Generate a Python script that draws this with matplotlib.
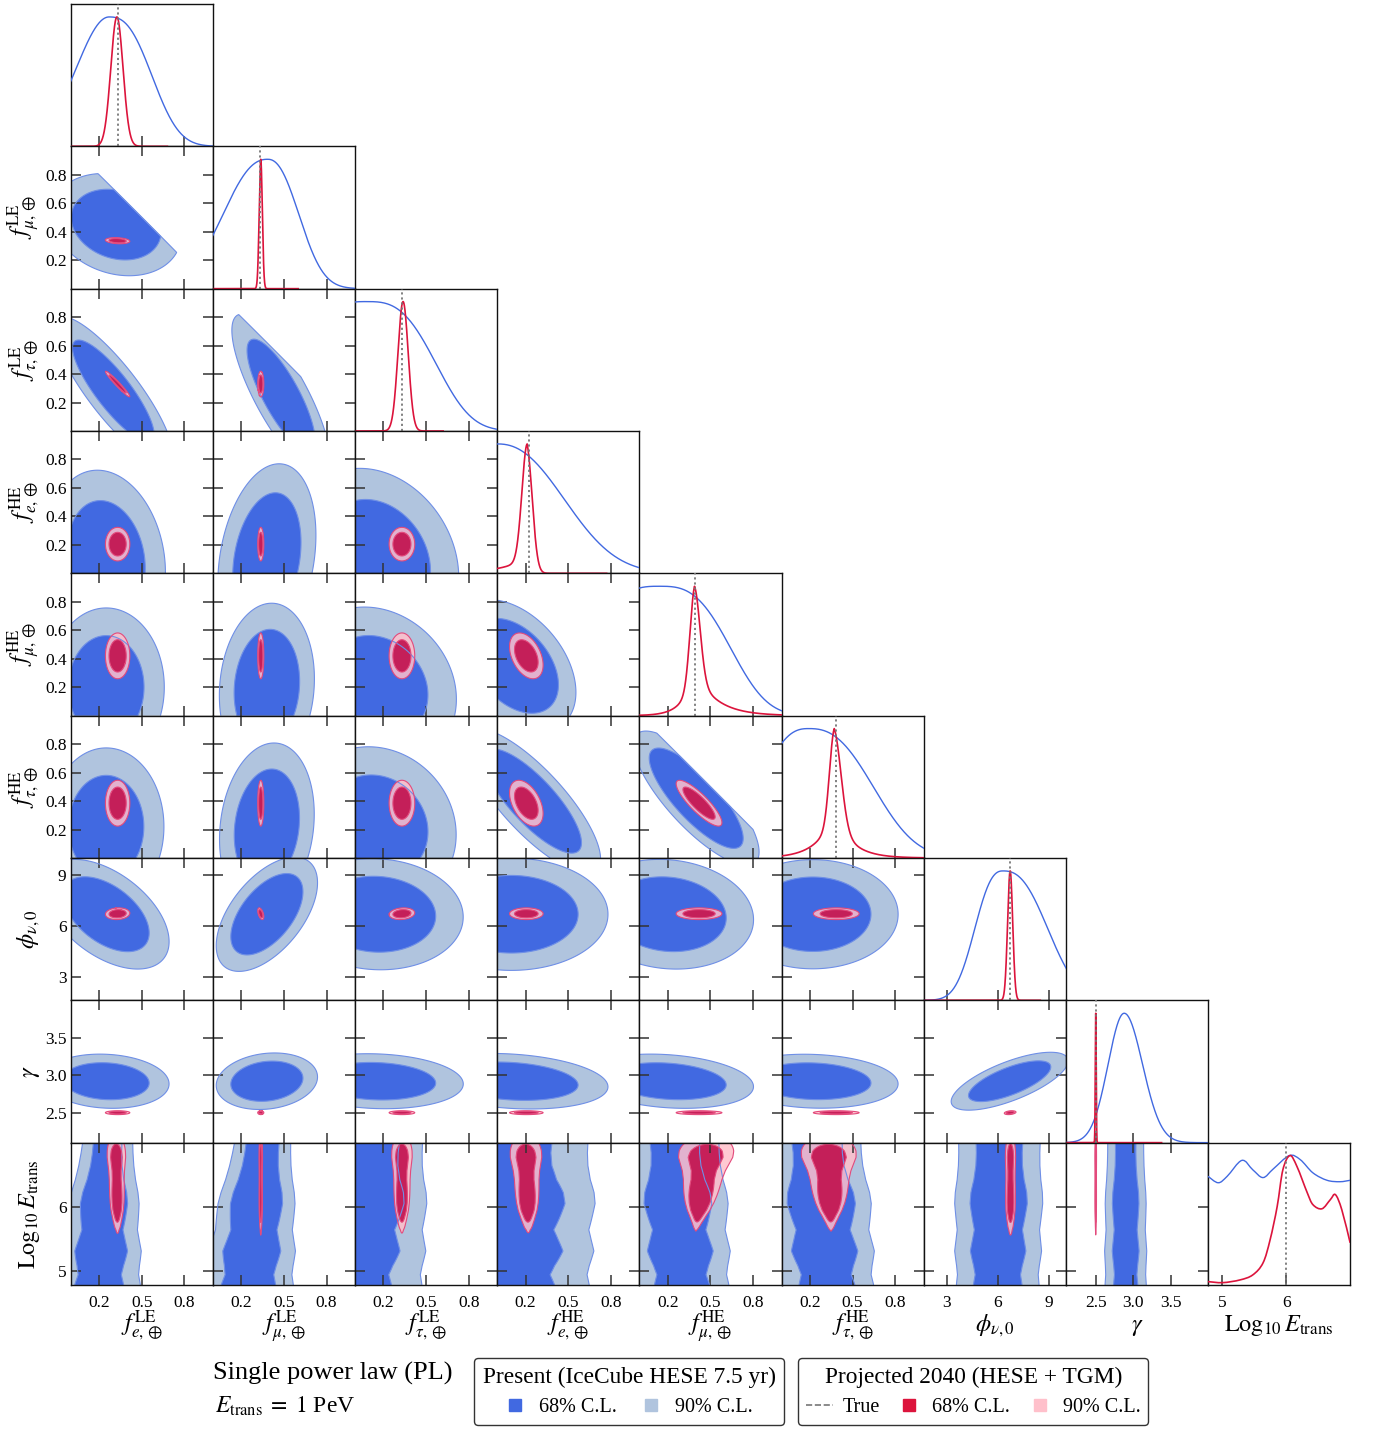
import numpy as np
import matplotlib
matplotlib.use('Agg')
import matplotlib.pyplot as plt
from matplotlib.lines import Line2D
from matplotlib.path import Path
from matplotlib.patches import PathPatch

plt.rcParams['font.family'] = ['Liberation Serif', 'DejaVu Serif']
plt.rcParams['mathtext.fontset'] = 'stix'

# ---------------- parameters / axes ----------------
LABELS = [r'$f^{\rm LE}_{e,\oplus}$', r'$f^{\rm LE}_{\mu,\oplus}$', r'$f^{\rm LE}_{\tau,\oplus}$',
          r'$f^{\rm HE}_{e,\oplus}$', r'$f^{\rm HE}_{\mu,\oplus}$', r'$f^{\rm HE}_{\tau,\oplus}$',
          r'$\phi_{\nu,0}$', r'$\gamma$', r'${\rm Log}_{10}\,E_{\rm trans}$']
LIMITS = [(0, 1)] * 6 + [(1.65, 10.0), (2.1, 4.0), (4.78, 7.0)]
PHYS = [(0, 1)] * 6 + [(0.0, 14.0), (1.5, 4.5), (4.78, 7.0)]
XTICKS = [[0.2, 0.5, 0.8]] * 6 + [[3, 6, 9], [2.5, 3.0, 3.5], [5, 6]]
XTICKLABELS = [['0.2', '0.5', '0.8']] * 6 + [['3', '6', '9'], ['2.5', '3.0', '3.5'], ['5', '6']]
YTICKS = [[0.2, 0.4, 0.6, 0.8]] * 6 + [[3, 6, 9], [2.5, 3.0, 3.5], [5, 6]]
YTICKLABELS = [['0.2', '0.4', '0.6', '0.8']] * 6 + [['3', '6', '9'], ['2.5', '3.0', '3.5'], ['5', '6']]
TRUE_VALUES = [1/3, 1/3, 1/3, 0.225, 0.39, 0.385, 6.75, 2.5, 6.0]
GROUP = [0, 0, 0, 1, 1, 1, 2, 3, 4]

# ---------------- 1D marginals ----------------
PRES1D_MEAN = [0.27, 0.385, 0.08, 0.0, 0.14, 0.19, 6.31, 2.88]
PRES1D_SL = [0.23, 0.30, 0.448, 0.45, 0.46, 0.33, 1.55, 0.215]
PRES1D_SR = [0.28, 0.21, 0.448, 0.45, 0.46, 0.425, 2.46, 0.245]
PRES1D_PL = [2.0, 2.3, 3.0, 2.3, 3.0, 2.54, 2.5, 2.0]
PRES1D_PR = [2.6, 2.3, 3.0, 2.3, 3.0, 2.54, 2.5, 2.0]

PROJ1D_MEAN = [0.325, 0.337, 0.338, 0.211, 0.388, 0.371, 6.73, 2.5]
PROJ1D_SL = [0.043, 0.011, 0.036, 0.037, 0.033, 0.034, 0.15, 0.006]
PROJ1D_SR = [0.043, 0.011, 0.036, 0.037, 0.040, 0.050, 0.15, 0.006]
PROJ1D_TAIL_A = [0.0, 0.0, 0.0, 0.12, 0.35, 0.35, 0.0, 0.0]
PROJ1D_TAIL_LL = [1.0, 1.0, 1.0, 0.18, 0.08, 0.12, 1.0, 1.0]
PROJ1D_TAIL_LR = [1.0, 1.0, 1.0, 0.02, 0.15, 0.12, 1.0, 1.0]
PROJ1D_XMAX = [0.68, 0.6, 0.62, 0.77, 1.0, 1.0, 8.5, 3.38]

LOGE_PRES_X = [4.78, 4.94, 5.08, 5.31, 5.48, 5.64, 5.80, 6.05, 6.22, 6.42, 6.64, 6.84, 7.0]
LOGE_PRES_Y = [0.84, 0.79, 0.84, 0.963, 0.89, 0.83, 0.897, 1.0, 0.969, 0.866, 0.809, 0.798, 0.809]
LOGE_PROJ_X = [4.78, 5.01, 5.28, 5.48, 5.64, 5.75, 5.86, 5.95, 6.06, 6.17, 6.33, 6.42, 6.56, 6.69, 6.77, 6.87, 7.0]
LOGE_PROJ_Y = [0.026, 0.018, 0.039, 0.078, 0.171, 0.349, 0.605, 0.891, 1.0, 0.915, 0.713, 0.62, 0.589, 0.659, 0.698, 0.581, 0.326]

# ---------------- 2D posteriors ----------------
PRES2D_MEAN = [0.25, 0.38, 0.15, 0.10, 0.20, 0.22, 6.7, 2.92]
PRES2D_SIGMA = [0.22, 0.17, 0.30, 0.33, 0.30, 0.30, 1.6, 0.18]
PRES_RHO = [
    [],
    [-0.35],
    [-0.85, -0.8],
    [-0.15, 0.25, -0.2],
    [0.0, 0.1, -0.15, -0.4],
    [0.0, 0.15, -0.1, -0.6, -0.9],
    [-0.5, 0.55, -0.05, 0.0, -0.1, 0.0],
    [-0.1, 0.15, -0.1, -0.2, -0.2, -0.1, 0.7],
]
SIMPLEX_PAIRS = [(1, 0), (2, 0), (2, 1), (4, 3), (5, 3), (5, 4)]
SIMPLEX_MX = [0.32, 0.30, 0.48, 0.12, 0.25, 0.40]
SIMPLEX_MY = [0.45, 0.28, 0.25, 0.35, 0.40, 0.42]
SIMPLEX_SX = [0.28, 0.24, 0.20, 0.28, 0.30, 0.30]
SIMPLEX_SY = [0.22, 0.30, 0.33, 0.30, 0.32, 0.32]
SIMPLEX_RHO = [-0.2, -0.85, -0.8, -0.4, -0.8, -0.8]

# Log10 E_trans row (present): x centre / width at logE = 4.78 and 7.0
LOGE_PRES_MX_LO = [0.20, 0.25, 0.02, 0.15, 0.30, 0.32, 6.0, 2.9]
LOGE_PRES_MX_HI = [0.26, 0.35, 0.15, 0.15, 0.25, 0.25, 6.1, 2.9]
LOGE_PRES_SX_LO = [0.21, 0.22, 0.30, 0.35, 0.25, 0.25, 1.5, 0.17]
LOGE_PRES_SX_HI = [0.13, 0.14, 0.22, 0.35, 0.24, 0.24, 1.5, 0.15]

PROJ2D_MEAN = [0.33, 0.337, 0.33, 0.205, 0.42, 0.385, 6.73, 2.5]
PROJ2D_SIGMA = [0.04, 0.01, 0.042, 0.055, 0.075, 0.075, 0.16, 0.012]
PROJ_RHO = [
    [],
    [-0.2],
    [-0.97, 0.0],
    [0.0, 0.0, 0.0],
    [0.0, 0.0, 0.0, -0.4],
    [0.0, 0.0, 0.0, -0.45, -0.85],
    [0.1, -0.5, 0.15, 0.0, 0.0, 0.0],
    [0.0, 0.0, 0.0, 0.0, 0.0, 0.0, 0.3],
]
# Log10 E_trans row (projected): x centre / width at logE = 5.5 and 7.0
LOGE_PROJ_MX_LO = [0.33, 0.337, 0.33, 0.22, 0.39, 0.35, 6.75, 2.5]
LOGE_PROJ_MX_HI = [0.32, 0.337, 0.33, 0.20, 0.48, 0.33, 6.75, 2.5]
LOGE_PROJ_SX_LO = [0.015, 0.005, 0.015, 0.02, 0.006, 0.008, 0.12, 0.004]
LOGE_PROJ_SX_HI = [0.04, 0.007, 0.045, 0.07, 0.13, 0.13, 0.17, 0.006]

# ---------------- colours ----------------
C_BLUE68 = '#4169E1'
C_BLUE90 = '#B0C4DE'
C_BLUE_EDGE = '#6F8FE6'
C_RED68 = '#C2124F'
C_PINK90 = '#FFC0CB'
C_RED_EDGE = '#E34A7C'
C_RED_LINE = '#DC143C'


def split_gen(x, m, sl, sr, pl, pr):
    d = x - m
    s = np.where(d < 0, sl, sr)
    p = np.where(d < 0, pl, pr)
    return np.exp(-0.5 * np.abs(d / s) ** p)


def split_laplace(x, m, ll, lr):
    d = x - m
    lam = np.where(d < 0, ll, lr)
    return np.exp(-np.abs(d) / lam)


def hpd_levels(Z):
    z = np.sort(Z.ravel())[::-1]
    c = np.cumsum(z)
    c /= c[-1]
    l68 = z[np.searchsorted(c, 0.68)]
    l90 = z[np.searchsorted(c, 0.90)]
    return l90, l68


def gauss2d(X, Y, mx, my, sx, sy, rho):
    u = (X - mx) / sx
    v = (Y - my) / sy
    return np.exp(-0.5 * (u * u - 2 * rho * u * v + v * v) / (1 - rho * rho))


def present_density(r, c):
    xlo, xhi = PHYS[c]
    if r == 8:
        x = np.linspace(xlo, xhi, 320)
        y = np.linspace(4.78, 7.0, 320)
        X, Y = np.meshgrid(x, y)
        t = (Y - 4.78) / (7.0 - 4.78)
        mx = LOGE_PRES_MX_LO[c] + t * (LOGE_PRES_MX_HI[c] - LOGE_PRES_MX_LO[c])
        sx = LOGE_PRES_SX_LO[c] + t * (LOGE_PRES_SX_HI[c] - LOGE_PRES_SX_LO[c])
        g = np.interp(Y, LOGE_PRES_X, LOGE_PRES_Y)
        Z = g * np.exp(-0.5 * ((X - mx) / sx) ** 2)
        return X, Y, Z
    ylo, yhi = PHYS[r]
    x = np.linspace(xlo, xhi, 320)
    y = np.linspace(ylo, yhi, 320)
    X, Y = np.meshgrid(x, y)
    if (r, c) in SIMPLEX_PAIRS:
        k = SIMPLEX_PAIRS.index((r, c))
        Z = gauss2d(X, Y, SIMPLEX_MX[k], SIMPLEX_MY[k], SIMPLEX_SX[k], SIMPLEX_SY[k], SIMPLEX_RHO[k])
        Z[X + Y > 1] = 0.0
    else:
        Z = gauss2d(X, Y, PRES2D_MEAN[c], PRES2D_MEAN[r], PRES2D_SIGMA[c], PRES2D_SIGMA[r], PRES_RHO[r][c])
    return X, Y, Z


def projected_density(r, c):
    xlo, xhi = PHYS[c]
    if r == 8:
        y = np.linspace(4.78, 7.0, 400)
        smax = max(LOGE_PROJ_SX_LO[c], LOGE_PROJ_SX_HI[c])
        mlo = min(LOGE_PROJ_MX_LO[c], LOGE_PROJ_MX_HI[c])
        mhi = max(LOGE_PROJ_MX_LO[c], LOGE_PROJ_MX_HI[c])
        x = np.linspace(max(xlo, mlo - 6 * smax), min(xhi, mhi + 6 * smax), 500)
        X, Y = np.meshgrid(x, y)
        t = (Y - 5.5) / 1.5
        mx = LOGE_PROJ_MX_LO[c] + t * (LOGE_PROJ_MX_HI[c] - LOGE_PROJ_MX_LO[c])
        sx = LOGE_PROJ_SX_LO[c] + t * (LOGE_PROJ_SX_HI[c] - LOGE_PROJ_SX_LO[c])
        sx = np.maximum(sx, 0.6 * LOGE_PROJ_SX_LO[c])
        g = np.interp(Y, LOGE_PROJ_X, LOGE_PROJ_Y)
        Z = g * np.exp(-0.5 * ((X - mx) / sx) ** 2)
        return X, Y, Z
    ylo, yhi = PHYS[r]
    mx, sx = PROJ2D_MEAN[c], PROJ2D_SIGMA[c]
    my, sy = PROJ2D_MEAN[r], PROJ2D_SIGMA[r]
    x = np.linspace(max(xlo, mx - 7 * sx), min(xhi, mx + 7 * sx), 300)
    y = np.linspace(max(ylo, my - 7 * sy), min(yhi, my + 7 * sy), 300)
    X, Y = np.meshgrid(x, y)
    Z = gauss2d(X, Y, mx, my, sx, sy, PROJ_RHO[r][c])
    if GROUP[r] == GROUP[c] and GROUP[r] < 2:
        Z[X + Y > 1] = 0.0
    return X, Y, Z


def draw_filled(ax, X, Y, Z, c90, c68, edge, alpha90=1.0, alpha68=1.0):
    l90, l68 = hpd_levels(Z)
    zmax = Z.max() * 1.001 + 1e-12
    ax.contourf(X, Y, Z, levels=[l90, zmax], colors=[c90], alpha=alpha90, antialiased=True)
    ax.contourf(X, Y, Z, levels=[l68, zmax], colors=[c68], alpha=alpha68, antialiased=True)
    ax.contour(X, Y, Z, levels=[l90, l68], colors=[edge], linewidths=0.8)


def catmull_path(xs, ys):
    P = np.column_stack([xs, ys])
    n = len(P)
    verts = [P[0]]
    codes = [Path.MOVETO]
    for i in range(n - 1):
        p0 = P[i - 1] if i > 0 else P[i]
        p1, p2 = P[i], P[i + 1]
        p3 = P[i + 2] if i + 2 < n else P[i + 1]
        verts += [p1 + (p2 - p0) / 6.0, p2 - (p3 - p1) / 6.0, p2]
        codes += [Path.CURVE4] * 3
    return Path(verts, codes)


# ---------------- figure ----------------
fig = plt.figure(figsize=(13.8, 14.29), dpi=100)
N = 9
X0, W = 70.7, 142.16
Y0, H = 4.0, 142.33
TICKLEN = 7.2

for r in range(N):
    for c in range(r + 1):
        left = (X0 + c * W) / 1380.0
        bottom = 1.0 - (Y0 + (r + 1) * H) / 1429.0
        ax = fig.add_axes([left, bottom, W / 1380.0, H / 1429.0])
        for s in ax.spines.values():
            s.set_linewidth(1.0)
            s.set_color('#111111')
        ax.set_xlim(*LIMITS[c])
        ax.set_xticks(XTICKS[c])
        if r == c:
            ax.set_ylim(0, 1.1)
            ax.set_yticks([])
            if c < 8:
                lo, hi = PHYS[c]
                xs = np.linspace(lo, hi, 800)
                yb = split_gen(xs, PRES1D_MEAN[c], PRES1D_SL[c], PRES1D_SR[c], PRES1D_PL[c], PRES1D_PR[c])
                ax.plot(xs, yb, color=C_BLUE68, lw=1.0, zorder=3)
                xr = np.linspace(lo if c < 6 else LIMITS[c][0], PROJ1D_XMAX[c], 3000)
                core = split_gen(xr, PROJ1D_MEAN[c], PROJ1D_SL[c], PROJ1D_SR[c], 2.0, 2.0)
                tail = split_laplace(xr, PROJ1D_MEAN[c], PROJ1D_TAIL_LL[c], PROJ1D_TAIL_LR[c])
                a = PROJ1D_TAIL_A[c]
                yr = (1 - a) * core + a * tail
                ax.plot(xr, yr, color=C_RED_LINE, lw=1.2, zorder=4)
            else:
                ax.add_patch(PathPatch(catmull_path(LOGE_PRES_X, LOGE_PRES_Y), fill=False,
                                       edgecolor=C_BLUE68, lw=1.0, zorder=3))
                ax.add_patch(PathPatch(catmull_path(LOGE_PROJ_X, LOGE_PROJ_Y), fill=False,
                                       edgecolor=C_RED_LINE, lw=1.2, zorder=4))
            ax.axvline(TRUE_VALUES[c], color='#777777', ls=(0, (1.2, 1.6)), lw=1.3, zorder=5)
            ax.tick_params(axis='x', direction='in', length=TICKLEN, width=1.1, color='#333333',
                           top=False, bottom=True, labelsize=12.5, pad=7)
            ax.tick_params(axis='y', left=False, right=False, labelleft=False)
        else:
            ax.set_ylim(*LIMITS[r])
            ax.set_yticks(YTICKS[r])
            Xp, Yp, Zp = present_density(r, c)
            draw_filled(ax, Xp, Yp, Zp, C_BLUE90, C_BLUE68, C_BLUE_EDGE)
            Xr, Yr, Zr = projected_density(r, c)
            draw_filled(ax, Xr, Yr, Zr, C_PINK90, C_RED68, C_RED_EDGE, alpha90=0.85, alpha68=0.92)
            ax.tick_params(axis='both', direction='in', length=TICKLEN, width=1.1, color='#333333',
                           top=True, right=True, labelsize=12.5)
            ax.tick_params(axis='x', pad=7)
            ax.tick_params(axis='y', pad=3)
        if r == N - 1:
            ax.set_xticklabels(XTICKLABELS[c])
            ax.set_xlabel(LABELS[c], fontsize=17.5, va='baseline')
            ax.xaxis.set_label_coords(0.5, -0.325)
        else:
            ax.set_xticklabels([])
        if c == 0 and r > 0:
            ax.set_yticklabels(YTICKLABELS[r])
            ax.set_ylabel(LABELS[r], fontsize=17.5)
            ax.yaxis.set_label_coords(-0.2, 0.5)
        elif r != c:
            ax.set_yticklabels([])

# ---------------- annotations / legends ----------------
fig.text(213 / 1380, 1 - 1373 / 1429, 'Single power law (PL)', fontsize=19, ha='left', va='center')
fig.text(215 / 1380, 1 - 1406 / 1429, r'$E_{\rm trans}\;=\;1$ PeV', fontsize=17, ha='left', va='center')

h1 = [Line2D([], [], marker='s', ls='none', color=C_BLUE68, markersize=9),
      Line2D([], [], marker='s', ls='none', color=C_BLUE90, markersize=9)]
leg1 = fig.legend(h1, ['68% C.L.', '90% C.L.'], title='Present (IceCube HESE 7.5 yr)', ncol=2,
                  loc='center', bbox_to_anchor=(0.4558, 0.0262), fontsize=14.5, title_fontsize=16.8,
                  frameon=True, fancybox=True, edgecolor='#333333', framealpha=1.0,
                  handlelength=1.0, handletextpad=0.7, columnspacing=1.2, borderpad=0.4)
leg1.get_frame().set_linewidth(1.0)

h2 = [Line2D([], [], color='#777777', ls='--', lw=1.2),
      Line2D([], [], marker='s', ls='none', color=C_RED_LINE, markersize=9),
      Line2D([], [], marker='s', ls='none', color=C_PINK90, markersize=9)]
leg2 = fig.legend(h2, ['True', '68% C.L.', '90% C.L.'], title='Projected 2040 (HESE + TGM)', ncol=3,
                  loc='center', bbox_to_anchor=(0.7054, 0.0262), fontsize=14.5, title_fontsize=16.8,
                  frameon=True, fancybox=True, edgecolor='#333333', framealpha=1.0,
                  handlelength=1.3, handletextpad=0.5, columnspacing=0.8, borderpad=0.4)
leg2.get_frame().set_linewidth(1.0)

fig.savefig('out.png', dpi=100)
